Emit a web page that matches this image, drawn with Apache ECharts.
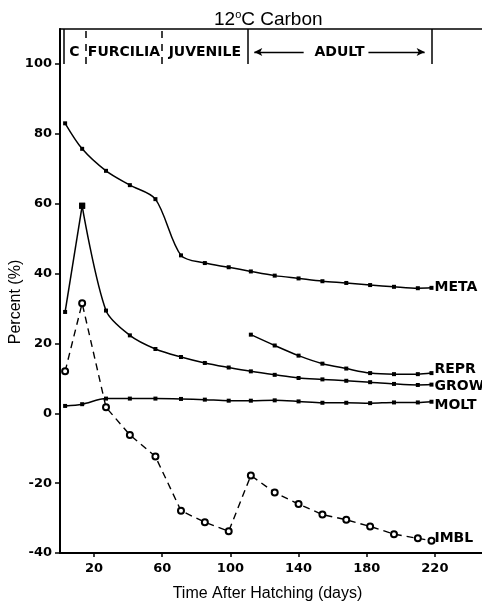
<!DOCTYPE html>
<html>
<head>
<meta charset="utf-8">
<script src="https://cdn.jsdelivr.net/npm/echarts@6/dist/echarts.min.js"></script>
<style>
  html, body { margin: 0; padding: 0; background: #fff; }
  #chart { width: 482px; height: 604px; }
</style>
</head>
<body>
<div id="chart"></div>
<script>
// sampling days shared by every budget term
const days = [3, 13, 27, 41, 56, 71, 85, 99, 112, 126, 140, 154, 168, 182, 196, 210, 218];
const metab = [83.0, 75.7, 69.4, 65.3, 61.3, 45.2, 43.0, 41.8, 40.6, 39.4, 38.6, 37.8, 37.3, 36.7, 36.2, 35.8, 35.9];
const repr = [null, null, null, null, null, null, null, null, 22.5, 19.4, 16.5, 14.2, 12.8, 11.5, 11.2, 11.2, 11.5];
const grow = [29.0, 59.4, 29.4, 22.3, 18.4, 16.1, 14.4, 13.1, 12.0, 11.0, 10.1, 9.7, 9.3, 8.9, 8.4, 8.1, 8.2];
const molt = [2.1, 2.6, 4.2, 4.2, 4.2, 4.1, 3.9, 3.6, 3.6, 3.7, 3.4, 3.0, 3.0, 2.9, 3.1, 3.1, 3.3];
const imbl = [12.0, 31.5, 1.7, -6.2, -12.4, -27.9, -31.2, -33.8, -17.8, -22.7, -26.0, -29.0, -30.5, -32.4, -34.6, -35.8, -36.5];

const xTicks = [20, 60, 100, 140, 180, 220];
const yTicks = [-40, -20, 0, 20, 40, 60, 80, 100];

// life stages along the top
const stageBounds = [2, 15, 60, 110, 218];
const stageLine = ['solid', 'dashed', 'dashed', 'solid', 'solid'];
const stageNames = ['C', 'FURCILIA', 'JUVENILE', 'ADULT'];

const pts = (vals, from, to) => days.map((d, i) => [d, vals[i]])
    .slice(from || 0, to)
    .filter(p => p[1] != null);

const boldFont = { fontFamily: 'DejaVu Sans', fontWeight: 'bold', color: '#000' };
const growPeak = Math.max(...grow);

const endLabel = (dy) => ({
    show: true,
    formatter: p => p.seriesName,
    distance: 3,
    offset: [0, dy || 0],
    fontSize: 14,
    ...boldFont
});

const solidSeries = (name, data, extra) => Object.assign({
    name: name,
    type: 'line',
    data: data,
    smooth: 0.3,
    symbol: 'rect',
    symbolSize: 4,
    lineStyle: { color: '#000', width: 1.5 },
    itemStyle: { color: '#000' },
    endLabel: endLabel(0)
}, extra || {});

const stageLines = stageBounds.map((d, i) => [
    { coord: [d, 100], lineStyle: { type: stageLine[i] === 'dashed' ? [7, 6] : 'solid' } },
    { coord: [d, 110] }
]);
const adultArrows = [
    [{ coord: [143, 103.4] }, { coord: [114, 103.4] }],
    [{ coord: [181, 103.4] }, { coord: [214, 103.4] }]
];

const chart = echarts.init(document.getElementById('chart'));
chart.setOption({
    animation: false,
    backgroundColor: '#fff',
    title: {
        text: '12{s|o}C Carbon',
        left: 209,
        top: 4,
        textStyle: {
            fontFamily: 'Liberation Sans',
            fontSize: 19,
            fontWeight: 'normal',
            color: '#000',
            lineHeight: 22,
            rich: {
                s: { fontFamily: 'Liberation Sans', fontSize: 11, lineHeight: 11, verticalAlign: 'top', color: '#000' }
            }
        }
    },
    grid: {
        left: 60, top: 29, width: 426, height: 524,
        outerBoundsMode: 'none',
        containLabel: false,
        show: true, borderColor: '#000', borderWidth: 1.5
    },
    xAxis: {
        type: 'value',
        min: 0,
        max: 250,
        name: 'Time After Hatching (days)',
        nameLocation: 'middle',
        nameGap: 33,
        nameMoveOverlap: false,
        nameTextStyle: { fontFamily: 'Liberation Sans', fontSize: 16, color: '#000', padding: [0, 11, 0, 0] },
        axisLine: { onZero: false, lineStyle: { color: '#000', width: 2 } },
        axisTick: { customValues: xTicks, length: 4, lineStyle: { color: '#000', width: 1.5 } },
        axisLabel: { customValues: xTicks, margin: 9, fontSize: 13, ...boldFont },
        splitLine: { show: false }
    },
    yAxis: {
        type: 'value',
        min: -40,
        max: 110,
        name: 'Percent (%)',
        nameLocation: 'middle',
        nameRotate: 90,
        nameGap: 36,
        nameMoveOverlap: false,
        nameTextStyle: { fontFamily: 'Liberation Sans', fontSize: 16, color: '#000', padding: [0, 22, 0, 0] },
        axisLine: { onZero: false, lineStyle: { color: '#000', width: 2 } },
        axisTick: { customValues: yTicks, length: 5, lineStyle: { color: '#000', width: 1.5 } },
        axisLabel: { customValues: yTicks, margin: 8, fontSize: 13, ...boldFont },
        splitLine: { show: false }
    },
    series: [
        solidSeries('META', pts(metab), {
            markLine: {
                silent: true,
                symbol: 'none',
                label: { show: false },
                lineStyle: { color: '#000', width: 1.5 },
                data: stageLines
            }
        }),
        solidSeries('REPR', pts(repr), { endLabel: endLabel(-4) }),
        // straight rise up to the peak, then the smooth decline
        {
            type: 'line',
            data: pts(grow, 0, 2),
            symbol: 'rect',
            symbolSize: v => (v[1] === growPeak ? 6 : 4),
            lineStyle: { color: '#000', width: 1.5 },
            itemStyle: { color: '#000' }
        },
        solidSeries('GROW', pts(grow, 1), {
            symbolSize: v => (v[1] === growPeak ? 6 : 4),
            endLabel: endLabel(2)
        }),
        solidSeries('MOLT', pts(molt), { endLabel: endLabel(4) }),
        {
            name: 'IMBL',
            type: 'line',
            data: pts(imbl),
            symbol: 'emptyCircle',
            symbolSize: 6,
            lineStyle: { color: '#000', width: 1.4, type: [7, 5] },
            itemStyle: { color: '#000', borderWidth: 1.2 },
            endLabel: endLabel(-2),
            markLine: {
                silent: true,
                symbol: ['none', 'arrow'],
                symbolSize: [6, 8],
                label: { show: false },
                lineStyle: { color: '#000', width: 1.3, type: 'solid' },
                data: adultArrows
            },
            markPoint: {
                silent: true,
                symbol: 'rect',
                symbolSize: 0,
                label: { show: true, position: 'inside', formatter: '{b}', fontSize: 14, ...boldFont },
                data: stageNames.map((n, i) => ({
                    name: n,
                    coord: [(stageBounds[i] + stageBounds[i + 1]) / 2, 103.4]
                }))
            }
        }
    ]
});
</script>
</body>
</html>
